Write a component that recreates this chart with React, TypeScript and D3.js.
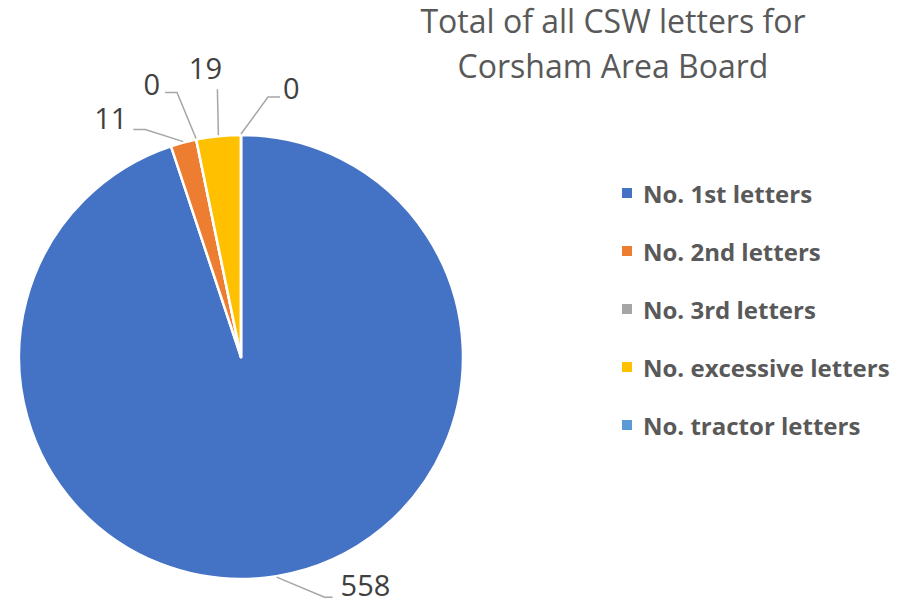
import React from 'react';
import * as d3 from 'd3';

const categories = ['No. 1st letters', 'No. 2nd letters', 'No. 3rd letters', 'No. excessive letters', 'No. tractor letters'];
const values = [558, 11, 0, 19, 0];
const colors = ['#4472C4', '#ED7D31', '#A5A5A5', '#FFC000', '#5B9BD5'];
const titleLines = ['Total of all CSW letters for', 'Corsham Area Board'];

// label placement relative to the slice's outer point: elbow, line end, text centre
const labelLayout = [
  { elbow: [48, 20], end: [56, 20], text: [64, 7], anchor: 'start' },
  { elbow: [-38, -12], end: [-50, -12], text: [-56, -24], anchor: 'end' },
  { elbow: [-19, -46], end: [-31, -46], text: [-36, -55], anchor: 'end' },
  { elbow: [-1, -46], end: [-1, -46], text: [-13, -68], anchor: 'middle' },
  { elbow: [27, -37], end: [39, -37], text: [42, -47], anchor: 'start' },
];

const width = 901;
const height = 602;

function App() {
  const cx = 241;
  const cy = 357;
  const radius = 222;

  const pie = d3.pie<number>().sort(null).value(d => d);
  const arcs = pie(values);
  const arc = d3.arc<d3.PieArcDatum<number>>().innerRadius(0).outerRadius(radius);

  const legendY = d3.scalePoint<string>().domain(categories).range([193, 425]);

  return (
    <svg width={width} height={height} style={{ position: 'absolute', left: 0, top: 0, background: '#fff' }}>
      <g transform={`translate(${cx},${cy})`}>
        {arcs.map((a, i) => (
          <path key={i} d={arc(a) || ''} fill={colors[i]} stroke="#fff" strokeWidth={2.5} strokeLinejoin="round" />
        ))}
        {arcs.map((a, i) => {
          const mid = a.value === 0 ? a.startAngle : (a.startAngle + a.endAngle) / 2;
          const px = (radius + 1) * Math.sin(mid);
          const py = -(radius + 1) * Math.cos(mid);
          const L = labelLayout[i];
          const pts: [number, number][] = [
            [px, py],
            [px + L.elbow[0], py + L.elbow[1]],
            [px + L.end[0], py + L.end[1]],
          ];
          return (
            <g key={'l' + i}>
              <path d={d3.line()(pts) || ''} fill="none" stroke="#A6A6A6" strokeWidth={1.5} />
              <text
                x={px + L.text[0]}
                y={py + L.text[1]}
                textAnchor={L.anchor as any}
                dominantBaseline="central"
                fontFamily="Open Sans"
                fontSize={29}
                fill="#404040"
              >
                {values[i]}
              </text>
            </g>
          );
        })}
      </g>
      {titleLines.map((t, i) => (
        <text key={t} x={613} y={33 + i * 45} textAnchor="middle" fontFamily="Open Sans" fontSize={32} fill="#595959">
          {t}
        </text>
      ))}
      {categories.map((c, i) => (
        <g key={c} transform={`translate(622,${legendY(c)})`}>
          <rect x={0} y={-5} width={10} height={10} fill={colors[i]} />
          <text x={21} y={0} dominantBaseline="central" fontFamily="Open Sans" fontWeight="bold" fontSize={24} fill="#595959">
            {c}
          </text>
        </g>
      ))}
    </svg>
  );
}

export default App;
